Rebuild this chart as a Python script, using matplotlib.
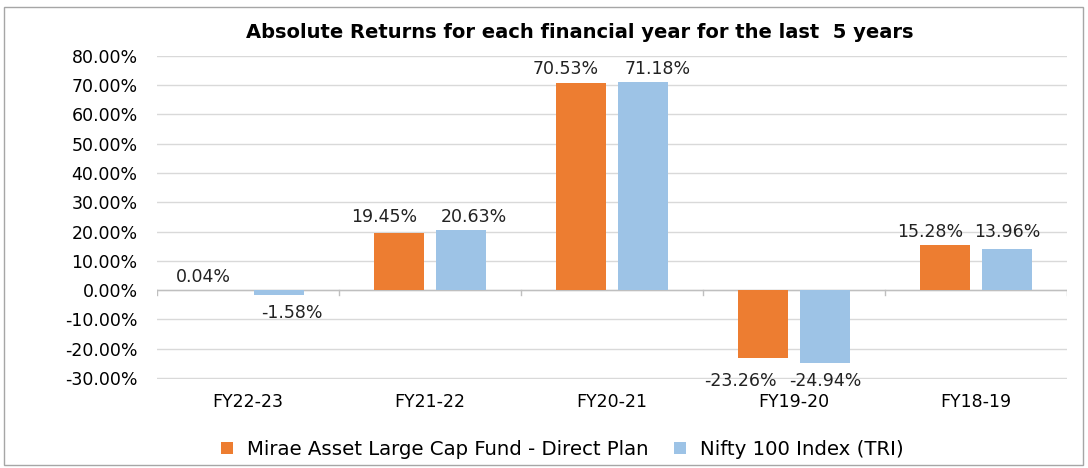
import numpy as np
import matplotlib.pyplot as plt
from matplotlib.patches import Rectangle

years = ["FY22-23", "FY21-22", "FY20-21", "FY19-20", "FY18-19"]
fund = [0.04, 19.45, 70.53, -23.26, 15.28]
index = [-1.58, 20.63, 71.18, -24.94, 13.96]
fund_name = "Mirae Asset Large Cap Fund - Direct Plan"
index_name = "Nifty 100 Index (TRI)"

# horizontal nudges of the data labels (pixels), as placed in the original
fund_dx = [-14, -15, -15, -23, -15]
index_dx = [13, 13, 15, 0, 0]

orange = "#ED7D31"
blue = "#9DC3E6"

fig = plt.figure(figsize=(10.88, 4.68), dpi=100)
ax = fig.add_axes([0.1443, 0.191, 0.8364, 0.690])

x = np.arange(len(years))
w = 0.27
b1 = ax.bar(x - 0.17, fund, w, color=orange, label=fund_name, zorder=3)
b2 = ax.bar(x + 0.17, index, w, color=blue, label=index_name, zorder=3)

for i in range(len(years)):
    pos = [v for v in (fund[i], index[i]) if v >= 0]
    neg = [v for v in (fund[i], index[i]) if v < 0]
    for r, v, dx in ((b1[i], fund[i], fund_dx[i]), (b2[i], index[i], index_dx[i])):
        xc = r.get_x() + r.get_width() / 2
        if v >= 0:
            ax.annotate(f"{v:.2f}%", (xc, max(pos)), xytext=(dx, 4), textcoords="offset pixels",
                        ha="center", va="bottom", fontsize=12.5, color="#222222")
        else:
            ax.annotate(f"{v:.2f}%", (xc, min(neg)), xytext=(dx, -9), textcoords="offset pixels",
                        ha="center", va="top", fontsize=12.5, color="#222222")

ax.set_xlim(-0.5, len(years) - 0.5)
ax.set_ylim(-30.2, 80)
ax.set_yticks(np.arange(-30, 81, 10))
ax.set_yticklabels([f"{t:.2f}%" for t in np.arange(-30, 81, 10)], fontsize=12.5)
ax.set_xticks(x)
ax.set_xticklabels(years, fontsize=12.5)
ax.tick_params(axis="y", length=0, pad=14)
ax.tick_params(axis="x", length=0, pad=10)
ax.grid(axis="y", color="#D9D9D9", linewidth=1, zorder=0)
for s in ax.spines.values():
    s.set_visible(False)
ax.axhline(0, color="#BFBFBF", linewidth=1, zorder=2)
for b in np.arange(-0.5, len(years), 1):
    ax.plot([b, b], [0, -1.5], color="#BFBFBF", linewidth=1, zorder=2)

fig.text(0.533, 0.93, "Absolute Returns for each financial year for the last  5 years",
         ha="center", va="center", fontsize=14, fontweight="bold")
fig.legend(loc="center", bbox_to_anchor=(0.517, 0.04), ncol=2, frameon=False,
           fontsize=14.2, handlelength=0.6, handleheight=0.6, columnspacing=1.3, handletextpad=0.7)

fig.patches.append(Rectangle((0.004, 0.006), 0.991, 0.98, transform=fig.transFigure,
                             fill=False, edgecolor="#A6A6A6", linewidth=1))

fig.savefig("out.png", dpi=100)
